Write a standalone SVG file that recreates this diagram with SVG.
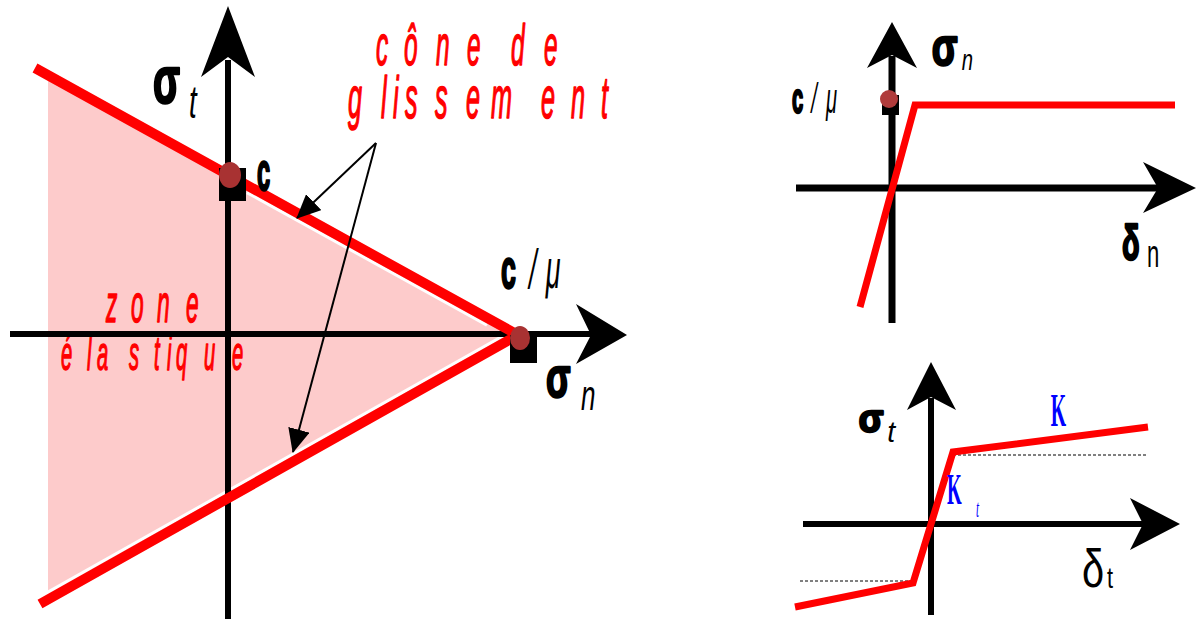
<svg xmlns="http://www.w3.org/2000/svg" width="1196" height="619" viewBox="0 0 1196 619">
<defs>
<style>
.ax{stroke:#000;fill:none;stroke-linecap:butt}
.ah{fill:#000;stroke:none}
.red{stroke:#ff0000;fill:none;stroke-linejoin:miter;stroke-linecap:butt}
.lead{stroke:#000;stroke-width:2;fill:none;marker-end:url(#tri)}
.rt{font-family:"Liberation Sans",Arial,sans-serif;font-style:italic;fill:#ff0000;stroke:#ff0000;stroke-width:1.5;stroke-linejoin:round}
.bk{font-family:"Liberation Sans",Arial,sans-serif;fill:#000}
.hv{font-weight:bold;stroke:#000;stroke-width:2.5;stroke-linejoin:round}
.bl{font-family:"Liberation Serif","Times New Roman",serif;fill:#0000ff}
.dot{fill:#a83232}
.dash{stroke:#000;stroke-width:1;stroke-dasharray:3 2;fill:none}
</style>
<marker id="tri" viewBox="0 0 24 22" refX="23" refY="11" markerWidth="24" markerHeight="22" markerUnits="userSpaceOnUse" orient="auto">
<path d="M0,0 L24,11 L0,22 z" fill="#000"/>
</marker>
</defs>
<rect width="1196" height="619" fill="#fff"/>

<g id="left-plot">
<polygon id="elastic-zone" points="48,80 515,335 48,593" fill="#fdcbcb"/>
<line x1="246.9" y1="192.6" x2="486.9" y2="325.2" stroke="#fff" stroke-width="3"/>
<line x1="514.8" y1="329.3" x2="36.8" y2="598.3" stroke="#fff" stroke-width="3"/>
<text id="zone-label" class="rt" transform="scale(0.42,1)"><tspan font-size="54" x="252.4 311.9 373.8 442.9" y="322">zone</tspan><tspan font-size="48" x="145.2 207.1 231.0 307.1 366.7 397.6 419.0 485.7 552.4" y="370">élastique</tspan></text>
<g id="left-axes">
<line class="ax" x1="228" y1="619" x2="228" y2="60" stroke-width="6"/>
<polygon class="ah" points="228,6 255,77 228,57 201,77"/>
<line class="ax" x1="10" y1="334" x2="593" y2="334" stroke-width="6"/>
<polygon class="ah" points="627,335 576,304 591,335 576,364"/>
</g>
<polyline id="cone" class="red" points="35,68 518,335 40,604" stroke-width="10"/>
<text id="cone-label" class="rt" transform="scale(0.42,1)"><tspan font-size="58" x="895.2 961.9 1038.1 1111.9 1166.7 1216.7 1295.2" y="65">cône de</tspan><tspan font-size="60" x="828.6 907.1 935.7 964.3 1035.7 1109.5 1169.0 1288.1 1359.5 1431.0" y="118">glissement</tspan></text>
<g id="point-c">
<rect x="219" y="168" width="27" height="33" fill="#000"/>
<ellipse class="dot" cx="230" cy="175" rx="11" ry="13"/>
<text class="bk hv" font-size="54" transform="scale(0.44,1)" x="584" y="190">c</text>
</g>
<g id="point-cmu">
<rect x="510" y="335" width="27" height="28" fill="#000"/>
<ellipse class="dot" cx="520" cy="338" rx="10" ry="12"/>
<text class="bk" font-size="56" transform="scale(0.48,1)" y="288"><tspan x="1044" class="hv">c </tspan><tspan x="1102 1137" font-style="italic" font-size="56">/μ</tspan></text>
</g>
<text id="label-sigma-t" class="bk" transform="scale(0.6,1)" y="103"><tspan x="255" font-size="66" class="hv">σ</tspan><tspan x="315" y="118" font-size="46" font-style="italic">t</tspan></text>
<text id="label-sigma-n" class="bk" transform="scale(0.62,1)" y="397"><tspan x="880.6" font-size="58" class="hv">σ</tspan><tspan x="937" y="410" font-size="42" font-style="italic">n</tspan></text>
</g>

<g id="connectors">
<line class="lead" x1="376" y1="143" x2="297" y2="218"/>
<line class="lead" x1="376" y1="143" x2="293" y2="452"/>
</g>

<g id="normal-plot">
<line class="ax" x1="892" y1="323" x2="892" y2="56" stroke-width="7"/>
<polygon class="ah" points="892,22 917,68 892,55 867,68"/>
<line class="ax" x1="796" y1="188" x2="1160" y2="188" stroke-width="7"/>
<polygon class="ah" points="1196,188 1143,162 1158,188 1143,213"/>
<polyline class="red" points="860,307 915,105 1175,105" stroke-width="7"/>
<rect x="882" y="95" width="17" height="20" fill="#000"/>
<circle cx="889" cy="99" r="9" fill="#b03b3b"/>
<text class="bk" transform="scale(0.48,1)" y="113"><tspan x="1650" font-size="42" class="hv" stroke-width="2">c </tspan><tspan x="1690 1721" font-size="42" font-style="italic">/μ</tspan></text>
<text class="bk" transform="scale(0.7,1)" y="65"><tspan x="1331" font-size="54" class="hv" stroke-width="2">σ</tspan><tspan x="1374" y="70" font-size="29" font-style="italic">n</tspan></text>
<text class="bk" transform="scale(0.58,1)" y="260"><tspan x="1934.5" font-size="50" class="hv" stroke-width="1.5">δ</tspan><tspan x="1977.6" y="267" font-size="38">n</tspan></text>
</g>

<g id="tangent-plot">
<line class="dash" x1="953" y1="455" x2="1148" y2="455"/>
<line class="dash" x1="800" y1="581" x2="912" y2="581"/>
<line class="ax" x1="931" y1="615" x2="931" y2="398" stroke-width="6"/>
<polygon class="ah" points="931,362 956,410 931,397 907,410"/>
<line class="ax" x1="803" y1="524" x2="1145" y2="524" stroke-width="6"/>
<polygon class="ah" points="1180,524 1130,498 1143,524 1130,550"/>
<polyline class="red" points="795,607 913,583 953,452 1148,427" stroke-width="7"/>
<text class="bk" transform="scale(0.95,1)" y="432"><tspan x="904" font-size="38" class="hv" stroke-width="1">σ</tspan><tspan x="934" y="442" font-size="30" font-style="italic">t</tspan></text>
<text class="bl" font-size="47" font-weight="bold" transform="scale(0.42,1)" x="2502" y="426">K</text>
<text class="bl" transform="scale(0.42,1)" y="504"><tspan x="2255" font-size="45" font-weight="bold">K</tspan><tspan x="2324" y="517" font-size="26" font-style="italic">t</tspan></text>
<text class="bk" transform="scale(0.75,1)" y="587"><tspan x="1442.7" font-size="53">δ</tspan><tspan x="1476" y="588" font-size="29">t</tspan></text>
</g>
</svg>
